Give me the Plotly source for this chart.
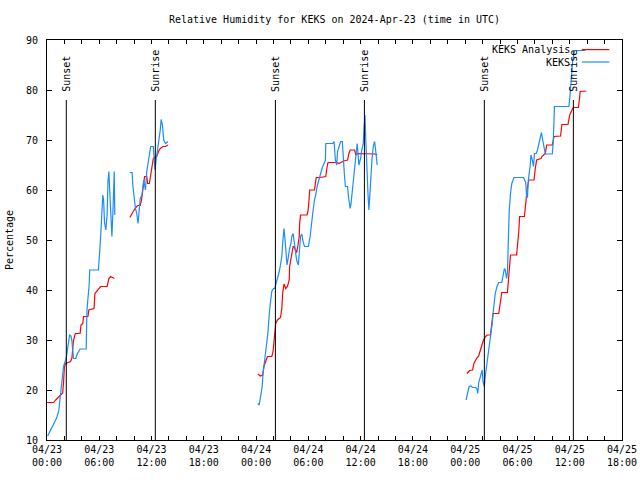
import pandas as pd
import plotly.graph_objects as go

BASE = pd.Timestamp("2024-04-23 00:00")

# Hours since 2024-04-23 00:00 UTC (None = data gap)
keks_hours = [0.07, 0.5, 1.0, 1.15, 1.35, 1.45, 1.53, 1.72, 1.9, 2.2, 2.3, 2.48, 2.6, 2.75, 2.85, 2.95, 3.05, 3.3, 3.5, 3.8, 4.5, 4.55, 4.6, 4.85, 4.9, 5.9, 6.0, 6.1, 6.2, 6.3, 6.4, 6.5, 6.6, 6.75, 6.9, 7.0, 7.1, 7.25, 7.35, 7.45, 7.55, 7.65, 7.72, 7.78,
              None,
              9.5, 9.77, 9.85, 10.0, 10.15, 10.3, 10.45, 10.55, 10.7, 10.9, 11.1, 11.2, 11.3, 11.45, 11.67, 11.9, 12.2, 12.3, 12.4, 12.5, 12.7, 13.0, 13.1, 13.25, 13.4, 13.6, 13.9,
              None,
              24.2, 24.35, 24.45, 24.55, 24.7, 24.8, 25.06, 25.2, 25.35, 25.55, 25.7, 25.8, 26.0, 26.15, 26.25, 26.4, 26.6, 26.7, 26.85, 26.95, 27.05, 27.2, 27.3, 27.45, 27.55, 27.65, 27.75, 27.85, 28.0, 28.1, 28.25, 28.4, 28.5, 28.65, 28.85, 28.95, 29.1, 29.25, 29.35, 29.55, 30.0, 30.2, 30.3, 30.5, 30.7, 30.85, 31.0, 31.25, 31.6, 31.95, 32.0, 32.8, 32.95, 33.1, 33.25, 33.35, 33.5, 33.7, 33.9, 34.0, 34.15, 34.25, 34.5, 34.6, 34.8, 34.9, 35.2, 35.4, 35.6, 35.7, 35.8, 35.9, 36.0, 36.1, 36.3, 36.4, 36.5, 36.6, 36.7, 36.85, 36.95, 37.05, 37.2, 37.3, 37.45, 37.6, 37.7, 37.8, 37.9,
              None,
              48.1, 48.25, 48.45, 48.65, 48.85, 49.2, 49.35, 49.45, 49.55, 49.75, 49.95, 50.05, 50.2, 50.3, 50.4, 50.55, 50.7, 50.9, 51.1, 51.2, 51.3, 51.45, 51.65, 51.85, 52.2, 52.3, 52.5, 52.6, 52.75, 52.85, 52.95, 53.05, 53.2, 53.35, 53.6, 54.7, 54.95, 55.05, 55.15, 55.25, 55.45, 55.55, 55.7, 55.85, 55.95, 56.15, 56.3, 56.55, 56.75, 56.9, 57.05, 57.2, 58.0, 58.1, 58.25, 59.9, 60.0, 60.15, 60.35, 60.55, 61.8]
keks_values = [10.8, 12.2, 14.0, 14.7, 15.8, 17.5, 19.0, 21.3, 24.7, 26.3, 27.7, 30.0, 31.0, 30.8, 30.0, 28.0, 26.3, 26.3, 27.3, 28.2, 28.2, 33.0, 36.3, 41.3, 44.0, 44.0, 46.0, 49.0, 52.0, 57.3, 59.0, 58.0, 53.5, 52.0, 55.0, 61.7, 63.7, 58.0, 52.0, 50.7, 55.0, 63.7, 63.7, 55.0,
               None,
               63.5, 63.5, 61.0, 58.5, 56.3, 55.3, 53.3, 55.3, 58.3, 59.0, 62.0, 61.0, 60.0, 63.7, 66.7, 68.7, 68.7, 66.7, 64.0, 65.7, 68.0, 72.0, 74.1, 73.0, 70.0, 69.3, 69.7,
               None,
               17.3, 17.0, 18.0, 19.0, 20.7, 23.3, 26.7, 29.3, 31.3, 36.0, 38.0, 39.7, 40.3, 40.3, 41.0, 42.3, 43.3, 44.0, 45.3, 46.7, 49.3, 52.3, 50.5, 47.3, 45.0, 46.0, 47.5, 48.3, 49.3, 50.7, 51.3, 49.5, 47.3, 46.0, 45.0, 48.0, 50.7, 51.2, 50.0, 48.7, 48.7, 50.7, 52.7, 55.3, 58.0, 59.0, 60.7, 62.5, 64.5, 65.9, 69.3, 69.3, 69.7, 66.0, 65.0, 67.7, 68.7, 69.7, 69.7, 66.0, 62.7, 60.7, 60.7, 58.7, 56.3, 57.3, 62.7, 66.3, 69.3, 67.3, 65.0, 65.7, 66.3, 67.7, 69.3, 72.7, 75.0, 69.7, 63.3, 59.0, 56.0, 59.3, 63.3, 66.0, 68.7, 69.7, 68.3, 66.0, 65.0,
               None,
               18.0, 19.3, 20.7, 20.8, 20.5, 20.5, 20.2, 19.3, 21.5, 22.7, 24.0, 21.7, 20.7, 22.7, 24.0, 26.3, 28.0, 30.0, 33.3, 35.3, 37.3, 39.3, 40.7, 41.5, 41.5, 42.7, 44.3, 44.0, 42.3, 43.5, 50.0, 55.7, 59.3, 61.3, 62.5, 62.5, 61.5, 58.7, 58.5, 62.0, 64.7, 67.0, 66.0, 64.7, 67.3, 67.3, 68.0, 70.3, 71.5, 70.0, 68.3, 67.2, 67.2, 69.3, 76.7, 76.7, 78.3, 81.0, 86.0, 87.9, 87.9]

analysis_hours = [0.0, 0.77, 1.0, 1.35, 1.6, 1.8, 1.9, 2.0, 2.15, 2.7, 2.85, 3.05, 3.25, 3.8, 3.9, 4.1, 4.2, 4.7, 4.8, 5.4, 5.5, 6.15, 6.9, 7.1, 7.3, 7.73,
                  None,
                  9.5, 9.8, 10.1, 10.4, 10.7, 10.85, 10.95, 11.2, 11.45, 11.55, 11.75, 12.05, 12.2, 12.45, 12.6, 12.8, 13.0, 13.3, 13.6, 13.9,
                  None,
                  24.2, 24.5, 24.75, 24.9, 25.3, 25.8, 25.95, 26.0, 26.1, 26.25, 26.45, 26.8, 26.95, 27.05, 27.2, 27.4, 27.6, 27.8, 27.85, 28.05, 28.25, 28.35, 28.5, 28.65, 28.75, 28.95, 29.0, 29.1, 29.85, 29.95, 30.05, 30.15, 30.7, 30.8, 30.9, 31.3, 32.0, 32.1, 32.25, 33.3, 33.5, 34.05, 34.5, 34.65, 34.8, 35.3, 35.45, 35.6, 36.7, 37.7, 37.9,
                  None,
                  48.2, 48.5, 48.85, 49.0, 49.3, 49.55, 49.75, 49.95, 50.1, 50.4, 50.55, 50.9, 51.05, 51.2, 51.85, 52.0, 52.2, 52.85, 52.95, 53.2, 53.9, 54.0, 54.15, 54.25, 54.8, 54.95, 55.1, 55.3, 55.9, 56.05, 56.2, 56.7, 56.8, 57.2, 57.35, 58.0, 58.2, 58.95, 59.1, 59.8, 60.0, 60.4, 61.0, 61.1, 61.2, 61.9]
analysis_values = [17.5, 17.5, 18.0, 18.7, 19.2, 19.4, 21.5, 24.7, 25.3, 25.7, 26.3, 30.0, 31.3, 31.3, 33.0, 33.3, 34.7, 34.7, 36.0, 36.3, 39.3, 40.7, 40.7, 42.3, 42.7, 42.3,
                   None,
                   54.5, 55.5, 56.3, 56.9, 56.9, 58.0, 59.7, 62.7, 62.7, 61.3, 61.3, 64.7, 66.3, 66.7, 66.7, 67.7, 68.3, 68.7, 68.7, 69.0,
                   None,
                   23.2, 22.8, 23.0, 24.7, 26.7, 26.7, 27.7, 29.0, 31.3, 33.3, 34.0, 34.5, 36.3, 39.3, 41.2, 40.3, 40.7, 42.0, 44.7, 47.0, 48.7, 48.7, 48.0, 47.5, 48.3, 50.7, 53.3, 55.0, 55.0, 55.7, 57.3, 60.0, 60.0, 61.0, 62.5, 62.5, 62.7, 64.1, 65.5, 65.5, 65.3, 65.8, 66.0, 67.3, 68.0, 68.0, 67.0, 67.3, 67.3, 67.2, 67.0,
                   None,
                   23.3, 23.9, 24.0, 25.3, 26.3, 26.8, 28.0, 29.0, 30.0, 30.8, 31.0, 31.0, 33.7, 35.3, 35.3, 37.3, 39.5, 39.5, 41.3, 47.0, 47.0, 48.7, 51.7, 54.7, 54.7, 57.3, 60.0, 62.0, 62.0, 64.3, 66.0, 66.3, 66.7, 67.3, 69.0, 69.0, 70.7, 70.8, 73.1, 73.1, 75.0, 76.5, 76.5, 78.0, 79.7, 79.8]

sun_times = ["2024-04-23 02:13", "2024-04-23 12:26", "2024-04-24 02:13",
             "2024-04-24 12:26", "2024-04-25 02:12", "2024-04-25 12:25"]
sun_labels = ["Sunset", "Sunrise", "Sunset", "Sunrise", "Sunset", "Sunrise"]

tick_times = pd.date_range("2024-04-23 00:00", "2024-04-25 18:00", freq="2h")
tick_labels = {t: t.strftime("%m/%d<br>%H:%M") for t in tick_times if t.hour % 6 == 0}

FONT = "DejaVu Sans Mono"
RED = "#ff0000"
BLUE = "#1a8cff"


def to_time(hours):
    return [None if h is None else BASE + pd.Timedelta(hours=h) for h in hours]


fig = go.Figure()
fig.add_trace(go.Scatter(x=to_time(analysis_hours), y=analysis_values, mode="lines",
                         name="KEKS Analysis", line=dict(color=RED, width=1.2),
                         connectgaps=False))
fig.add_trace(go.Scatter(x=to_time(keks_hours), y=keks_values, mode="lines",
                         name="KEKS", line=dict(color=BLUE, width=1.2),
                         connectgaps=False))

for t, lab in zip(sun_times, sun_labels):
    fig.add_shape(type="line", xref="x", yref="y", x0=t, x1=t, y0=10, y1=78,
                  line=dict(color="black", width=1), layer="above")
    fig.add_annotation(x=t, y=79.3, xref="x", yref="y", text=lab, textangle=-90,
                       showarrow=False, xanchor="center", yanchor="bottom",
                       font=dict(family=FONT, size=10, color="black"))

# legend drawn gnuplot-style (text left of sample)
for i, (name, col) in enumerate([("KEKS Analysis", RED), ("KEKS", BLUE)]):
    yp = 0.976 - i * 0.031
    fig.add_annotation(x=0.913, y=yp, xref="paper", yref="paper", text=name,
                       showarrow=False, xanchor="right", yanchor="middle",
                       font=dict(family=FONT, size=10, color="black"))
    fig.add_shape(type="line", xref="paper", yref="paper", x0=0.930, x1=0.978,
                  y0=yp, y1=yp, line=dict(color=col, width=1.2))

fig.update_layout(
    width=640, height=480,
    margin=dict(l=47, r=18, t=40, b=40, pad=0, autoexpand=False),
    paper_bgcolor="white", plot_bgcolor="white",
    showlegend=False,
    font=dict(family=FONT, size=10, color="black"),
    title=dict(text="Relative Humidity for KEKS on 2024-Apr-23 (time in UTC)",
               x=0.5, xref="paper", xanchor="center", y=1 - 19 / 480,
               yref="container", yanchor="middle",
               font=dict(family=FONT, size=10, color="black")),
)
fig.update_xaxes(
    type="date", range=["2024-04-23 00:00", "2024-04-25 18:00"],
    tickmode="array", tickvals=list(tick_times),
    ticktext=[tick_labels.get(t, "") for t in tick_times],
    ticks="inside", ticklen=4, tickcolor="black", showline=True, linecolor="black",
    linewidth=1, mirror="ticks", showgrid=False, zeroline=False, automargin=False,
    tickfont=dict(family=FONT, size=10, color="black"),
)
fig.update_yaxes(
    range=[10, 90], tickmode="array", tickvals=[10, 20, 30, 40, 50, 60, 70, 80, 90],
    ticks="inside", ticklen=5, tickcolor="black", showline=True, linecolor="black",
    linewidth=1, mirror="ticks", showgrid=False, zeroline=False, automargin=False,
    tickfont=dict(family=FONT, size=10, color="black"), ticklabelstandoff=6,
    title=dict(text="Percentage", standoff=10,
               font=dict(family=FONT, size=10, color="black")),
)

fig.write_html("out.html", config={"displayModeBar": False},
               post_script="document.body.style.margin='0';document.body.style.overflow='hidden';")
